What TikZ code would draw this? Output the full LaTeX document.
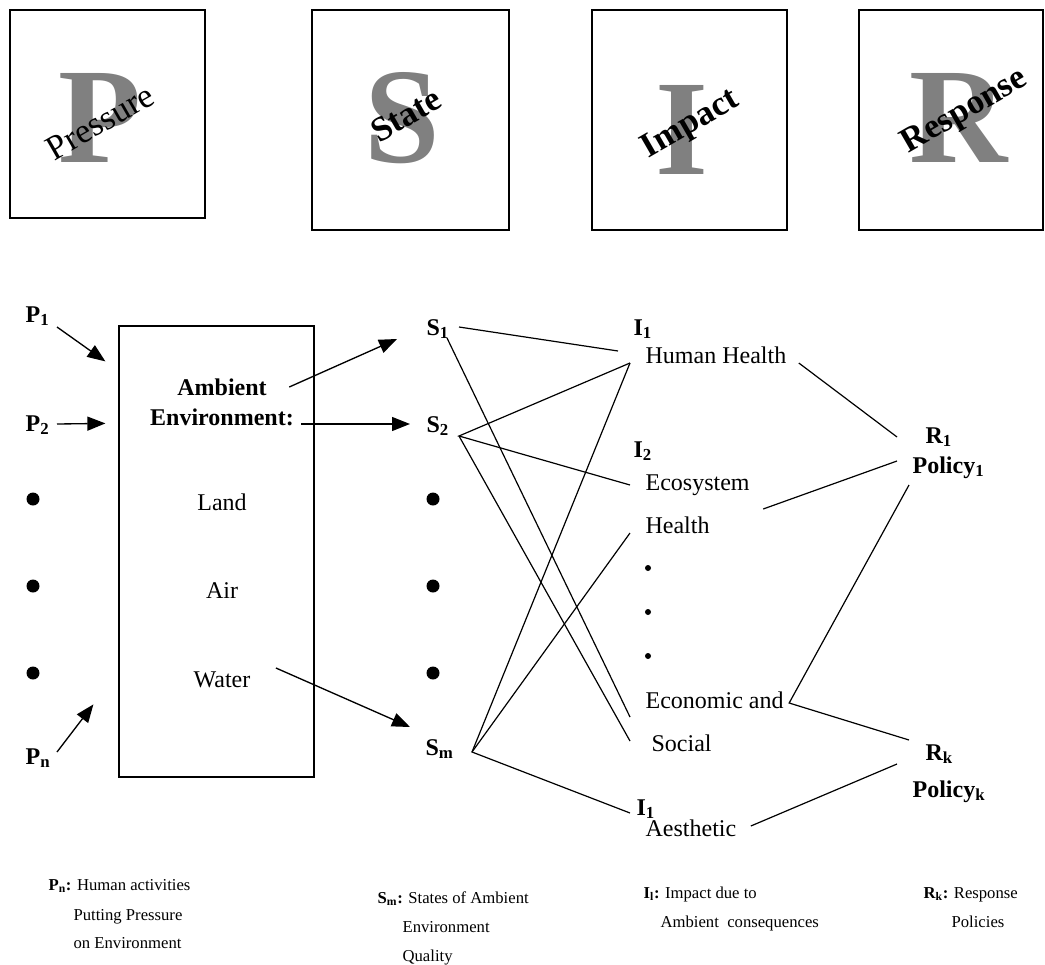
\documentclass[tikz,border=0pt]{standalone}
\usepackage{fontspec}
\setmainfont{Liberation Serif}
\usetikzlibrary{arrows.meta,positioning,calc}

\begin{document}
\begin{tikzpicture}[x=0.75pt,y=-0.75pt,line width=0.9pt,
    panel/.style={line width=1.1pt},
    letter/.style={text=gray,font=\bfseries\fontsize{102}{102}\selectfont},
    word/.style={rotate=30,font=\fontsize{26}{26}\selectfont},
    lbl/.style={inner sep=0pt,anchor=base west,font=\bfseries\fontsize{18}{20}\selectfont},
    txt/.style={inner sep=0pt,anchor=base west,font=\fontsize{18}{20}\selectfont},
    mid/.style={inner sep=0pt,anchor=base,font=\fontsize{18}{20}\selectfont},
    note/.style={inner sep=0pt,anchor=base west,font=\fontsize{12.5}{14}\selectfont},
    arr/.style={line width=1pt,-{Triangle[length=13.5pt,width=10.5pt]}}]
    \useasboundingbox (0,0) rectangle (1045,964);

    \draw[panel] (10,10) rectangle (205,218);
    \draw[panel] (312,10) rectangle (509,230);
    \draw[panel] (592,10) rectangle (787,230);
    \draw[panel] (859,10) rectangle (1043,230);
    \node[letter] (bigP) at (100,118) {P};
    \node[letter] (bigS) at (402,118) {S};
    \node[letter] (bigI) at (682,130) {I};
    \node[letter] (bigR) at (959,118) {R};
    \node[word] (pressure) at (100,122) {Pressure};
    \node[word,font=\bfseries\fontsize{26}{26}\selectfont] (state) at (406,115) {State};
    \node[word,font=\bfseries\fontsize{26}{26}\selectfont] (impact) at (691,125) {Impact};
    \node[word,font=\bfseries\fontsize{26}{26}\selectfont] (response) at (965,112) {Response};

    \node[draw,minimum width=146.25pt,minimum height=338.25pt,inner sep=0pt] (media) at (216.5,551.5) {};
    \node[mid,font=\bfseries\fontsize{18}{20}\selectfont] (amb) at (222,395) {Ambient};
    \node[mid,font=\bfseries\fontsize{18}{20}\selectfont] (envr) at (222,425) {Environment:};
    \node[mid] (land) at (222,510) {Land};
    \node[mid] (air) at (222,598) {Air};
    \node[mid] (water) at (222,687) {Water};

    \node[lbl] (p1) at (25,322) {P\textsubscript{1}};
    \node[lbl] (p2) at (25,431) {P\textsubscript{2}};
    \node[lbl] (pn) at (25,764) {P\textsubscript{n}};
    \node[lbl] (s1) at (426,335) {S\textsubscript{1}};
    \node[lbl] (s2) at (426,432) {S\textsubscript{2}};
    \node[lbl] (sm) at (425,755) {S\textsubscript{m}};
    \foreach \y in {499,586,673} {
        \fill (33,\y) circle (6.5);
        \fill (433,\y) circle (6.5);
    }

    \node[lbl] (i1) at (633,335) {I\textsubscript{1}};
    \node[txt] (hh) at (645,363) {Human Health};
    \node[lbl] (i2) at (633,457) {I\textsubscript{2}};
    \node[txt] (eco) at (645,490) {Ecosystem};
    \node[txt] (hl) at (645,533) {Health};
    \foreach \y in {568,612,656}
        \fill (648,\y) circle (3);
    \node[txt] (econ) at (645,708) {Economic and};
    \node[txt] (soc) at (651,751) {Social};
    \node[lbl] (i3) at (636,815) {I\textsubscript{1}};
    \node[txt] (aes) at (645,836) {Aesthetic};

    \node[lbl] (r1) at (925,443) {R\textsubscript{1}};
    \node[lbl] (pol1) at (912,473) {Policy\textsubscript{1}};
    \node[lbl] (rk) at (925,760) {R\textsubscript{k}};
    \node[lbl] (polk) at (912,797) {Policy\textsubscript{k}};

    \draw[arr] ($(p1.base west)+(32,5)$) -- ($(media.north west)+(-13,36)$);
    \draw[arr] ($(p2.base west)+(32,-7)$) -- ($(media.north west)+(-13,98)$);
    \draw[arr] ($(pn.base west)+(32,-12)$) -- ($(media.north west)+(-25,379)$);
    \draw[arr] ($(amb.base east)+(22,-8)$) -- ($(s1.base west)+(-29,4)$);
    \draw[arr] ($(envr.base east)+(7,-1)$) -- ($(s2.base west)+(-16,-8)$);
    \draw[arr] ($(water.base east)+(25,-19)$) -- ($(sm.base west)+(-15,-28)$);

    \coordinate (s2pt) at ($(s2.base west)+(33,4)$);
    \coordinate (smpt) at ($(sm.base west)+(47,-3)$);
    \draw ($(s1.base west)+(33,-8)$) -- ($(hh.base west)+(-27,-12)$);
    \draw ($(s1.base west)+(21,3)$) -- ($(econ.base west)+(-15,9)$);
    \draw ($(hh.base west)+(-15,0)$) -- (s2pt) -- ($(eco.base west)+(-15,-5)$);
    \draw (s2pt) -- ($(soc.base west)+(-21,-10)$);
    \draw ($(hh.base west)+(-15,0)$) -- (smpt) -- ($(aes.base west)+(-15,-23)$);
    \draw (smpt) -- ($(hl.base west)+(-15,0)$);

    \draw ($(hh.base east)+(12,0)$) -- ($(r1.base west)+(-28,-6)$);
    \draw ($(eco.base east)+(13,19)$) -- ($(r1.base west)+(-28,18)$);
    \draw ($(pol1.base west)+(-3,12)$) -- ($(econ.base east)+(5,-5)$) -- ($(rk.base west)+(-16,-20)$);
    \draw ($(aes.base east)+(14,-10)$) -- ($(rk.base west)+(-28,4)$);

    \node[note] (pnkey) at (48,890) {\textbf{P\textsubscript{n}:} Human activities};
    \node[note] (pnkey2) at (73,920) {Putting Pressure};
    \node[note] (pnkey3) at (73,948) {on Environment};
    \node[note] (smkey) at (377,903) {\textbf{S\textsubscript{m}:} States of Ambient};
    \node[note] (smkey2) at (402,932) {Environment};
    \node[note] (smkey3) at (402,961) {Quality};
    \node[note] (ikey) at (643,898) {\textbf{I\textsubscript{l}:} Impact due to};
    \node[note] (ikey2) at (660,927) {Ambient\ \ consequences};
    \node[note] (rkey) at (923,898) {\textbf{R\textsubscript{k}:} Response};
    \node[note] (rkey2) at (951,927) {Policies};
\end{tikzpicture}
\end{document}
